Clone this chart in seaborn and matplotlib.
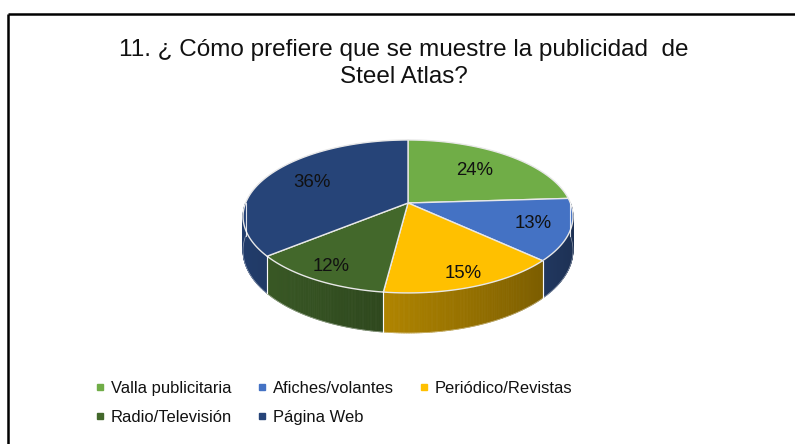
import numpy as np
import matplotlib
matplotlib.use('Agg')
import matplotlib.pyplot as plt
import seaborn as sns
from matplotlib.patches import Polygon
from matplotlib.lines import Line2D

# ---- data ----
categories = ['Valla publicitaria', 'Afiches/volantes', 'Periódico/Revistas',
              'Radio/Televisión', 'Página Web']
values = [24, 13, 15, 12, 36]
pct_labels = ['24%', '13%', '15%', '12%', '36%']
colors = ['#70AD47', '#4472C4', '#FFC000', '#43682B', '#264478']
title = '11. ¿ Cómo prefiere que se muestre la publicidad  de\nSteel Atlas?'

sns.set_theme(style='white')
plt.rcParams['font.family'] = ['Liberation Sans', 'DejaVu Sans']
palette = sns.color_palette(colors)

W, H = 795, 444
fig = plt.figure(figsize=(W / 100, H / 100), dpi=100)
fig.patch.set_facecolor('white')
ax = fig.add_axes([0, 0, 1, 1])
ax.set_xlim(0, W)
ax.set_ylim(H, 0)
ax.axis('off')

# frame (top and left edges visible)
ax.plot([8, W], [14, 14], color='black', lw=1.8, solid_capstyle='butt')
ax.plot([8, 8], [14, H], color='black', lw=1.8, solid_capstyle='butt')

# ---- 3D pie geometry ----
cx, cy, a, b, p, d = 408, 203, 162.4, 74.1, 0.176, 33


def proj(t, r=1.0, z=0.0):
    u = r * np.cos(t)
    v = r * np.sin(t)
    s = 1.0 / (1.0 + p * v)
    return cx + a * u * s, cy - b * v * s + d * z * s


vals = np.array(values, dtype=float)
fr = vals / vals.sum()
cum = np.concatenate([[0], np.cumsum(fr)])
t_start = np.pi / 2 - 2 * np.pi * cum[:-1]
t_end = np.pi / 2 - 2 * np.pi * cum[1:]


def shade(c, f):
    return tuple(np.clip(np.array(c) * f, 0, 1))


# side walls (front half only)
for i in range(len(vals)):
    lo, hi = t_end[i], t_start[i]
    for off in (0, -2 * np.pi, 2 * np.pi):
        l2, h2 = max(lo + off, -np.pi), min(hi + off, 0)
        if h2 <= l2:
            continue
        ts = np.linspace(h2, l2, max(int((h2 - l2) * 120), 2))
        for k in range(len(ts) - 1):
            tm = 0.5 * (ts[k] + ts[k + 1])
            f = 0.66 - 0.24 * np.cos(tm)
            xa, ya = proj(ts[k]); xb, yb = proj(ts[k + 1])
            xc, yc = proj(ts[k + 1], z=1); xd, yd = proj(ts[k], z=1)
            ax.add_patch(Polygon([(xa, ya), (xb, yb), (xc, yc), (xd, yd)],
                                 closed=True, facecolor=shade(palette[i], f),
                                 edgecolor=shade(palette[i], f), lw=0.6))
        xs_t, ys_t = proj(ts)
        xs_b, ys_b = proj(ts, z=1)
        ax.plot([xs_t[0], xs_b[0]], [ys_t[0], ys_b[0]], color='white', lw=0.8, alpha=0.85)
        ax.plot([xs_t[-1], xs_b[-1]], [ys_t[-1], ys_b[-1]], color='white', lw=0.8, alpha=0.85)
        ax.plot(xs_b, ys_b, color='white', lw=0.5, alpha=0.5)

# top faces
for i in range(len(vals)):
    ts = np.linspace(t_start[i], t_end[i], 200)
    xs, ys = proj(ts)
    pts = [(cx, cy)] + list(zip(xs, ys))
    ax.add_patch(Polygon(pts, closed=True, facecolor=palette[i],
                         edgecolor='#e8e8e8', lw=1.0, joinstyle='round'))

# percentage labels
for i in range(len(vals)):
    tm = 0.5 * (t_start[i] + t_end[i])
    r = 0.74 - 0.13 * np.sin(tm)
    x, y = proj(tm, r=r)
    ax.text(x, y, pct_labels[i], ha='center', va='center', fontsize=13.4,
            color='#111111')

# title
fig.text(404 / W, 1 - 39 / H, title, ha='center', va='top', fontsize=17.5,
         linespacing=1.28, color='#111111')

# legend (row-wise order: matplotlib fills columns first)
order = [0, 3, 1, 4, 2]
handles = [Line2D([0], [0], marker='s', linestyle='none', markersize=3.8,
                  markerfacecolor=palette[i], markeredgecolor=palette[i])
           for i in range(len(vals))]
fig.legend([handles[i] for i in order], [categories[i] for i in order],
           loc='upper left', bbox_to_anchor=(97 / W, 1 - 381 / H), ncol=3,
           frameon=False, fontsize=11.9, handlelength=0.4, handletextpad=0.45,
           columnspacing=1.6, labelspacing=0.85, borderpad=0, borderaxespad=0,
           labelcolor='#111111')

fig.savefig('out.png', dpi=100, facecolor='white')
